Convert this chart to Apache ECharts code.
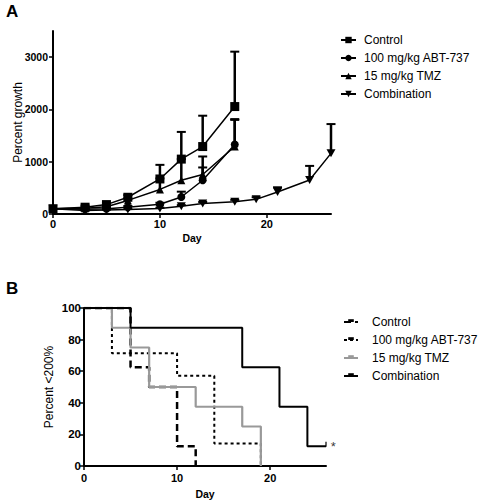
<!DOCTYPE html>
<html><head><meta charset="utf-8">
<script src="https://cdn.jsdelivr.net/npm/echarts@6/dist/echarts.min.js"></script>
<style>html,body{margin:0;padding:0;background:#fff}#c{width:483px;height:503px}</style>
</head><body><div id="c"></div>
<script>
// ---- Panel A data ----
const daysA = [0, 3, 5, 7, 10, 12, 14, 17];
const controlA = [100, 130, 180, 320, 670, 1050, 1290, 2055];
const controlHi = [100, 160, 210, 360, 940, 1570, 1880, 3105];
const abtA = [100, 90, 100, 130, 185, 325, 645, 1330];
const abtHi = [100, 100, 115, 150, 215, 427, 890, 1815];
const tmzA = [100, 110, 140, 260, 470, 645, 755, 1290];
const tmzHi = [100, 120, 160, 300, 680, 1050, 1100, 1800];
const daysCombo = [0, 3, 5, 7, 10, 12, 14, 17, 19, 21, 24, 26];
const comboA = [100, 65, 75, 85, 105, 150, 200, 236, 280, 420, 650, 1160];
const comboHi = [100, 75, 85, 95, 120, 170, 230, 270, 320, 511, 920, 1720];
const xTicksA = [0, 10, 20];
const yTicksA = [0, 1000, 2000, 3000];

// ---- Panel B data (Kaplan-Meier steps: day, percent) ----
const controlB = [[0, 100], [5, 62.5], [7, 50], [10, 12.5], [12, 0]];
const abtB = [[0, 100], [3, 71.4], [10, 57.1], [14, 14.3], [19, 0]];
const tmzB = [[0, 100], [3, 87.5], [5, 75], [7, 50], [12, 37.5], [17, 25], [19, 0]];
const comboB = [[0, 100], [5, 87.5], [17, 62.5], [21, 37.5], [24, 12.5], [26, 12.5]];
const censoredB = [[26, 12.5]];
const xTicksB = [0, 10, 20];
const yTicksB = [0, 20, 40, 60, 80, 100];

const names = ['Control', '100 mg/kg ABT-737', '15 mg/kg TMZ', 'Combination'];
const FONT = '"Liberation Sans", Arial, sans-serif';

function pairs(xs, ys) { return xs.map((x, i) => [x, ys[i]]); }
function errData(xs, ys, hi) { return xs.map((x, i) => [x, ys[i], hi[i]]); }

function errSeries(data) {
  return {
    type: 'custom', xAxisIndex: 0, yAxisIndex: 0, silent: true, z: 1,
    data: data,
    renderItem: function (params, api) {
      const x = api.value(0), y = api.value(1), h = api.value(2);
      if (h - y < 1) return;
      const p1 = api.coord([x, y]);
      const p2 = api.coord([x, h]);
      return {
        type: 'group', children: [
          { type: 'line', shape: { x1: p1[0], y1: p1[1], x2: p2[0], y2: p2[1] }, style: { stroke: '#000', lineWidth: 2.5 } },
          { type: 'line', shape: { x1: p2[0] - 4.5, y1: p2[1], x2: p2[0] + 4.5, y2: p2[1] }, style: { stroke: '#000', lineWidth: 2 } }
        ]
      };
    }
  };
}

const tickStyle = { lineStyle: { color: '#000', width: 1.5 }, length: 4 };
const nameStyle = { color: '#000', fontFamily: FONT, fontSize: 12 };
const dayNameStyle = { color: '#000', fontFamily: FONT, fontSize: 10.5, fontWeight: 'bold' };

function mkAxis(gridIndex, min, max, ticks, name, nameStyleObj, nameGap, margin, labelSize) {
  return {
    gridIndex: gridIndex, type: 'value', min: min, max: max,
    name: name, nameLocation: 'middle', nameGap: nameGap, nameTextStyle: nameStyleObj,
    nameMoveOverlap: false,
    axisLine: { lineStyle: { color: '#000', width: 2 } },
    axisTick: Object.assign({ customValues: ticks }, tickStyle),
    axisLabel: { customValues: ticks, margin: margin, formatter: v => String(v),
      color: '#000', fontFamily: FONT, fontSize: labelSize, fontWeight: 'bold' },
    splitLine: { show: false }
  };
}

const downTri = 'path://M0,0 L10,0 L5,9 Z';
const censorIcon = 'path://M0,0h2v5h-2z M1,10L1,10';

const chart = echarts.init(document.getElementById('c'), null, { renderer: 'svg' });
const option = {
  animation: false,
  backgroundColor: '#fff',
  graphic: [
    { type: 'text', left: 6, top: 3, style: { text: 'A', font: 'bold 17px ' + FONT, fill: '#000' } },
    { type: 'text', left: 6, top: 280, style: { text: 'B', font: 'bold 17px ' + FONT, fill: '#000' } }
  ],
  grid: [
    { left: 53, top: 31, width: 278, height: 183, outerBoundsMode: 'none', containLabel: false },
    { left: 84, top: 308, width: 242, height: 158, outerBoundsMode: 'none', containLabel: false }
  ],
  legend: [
    {
      data: names.map(n => ({ name: n })),
      orient: 'vertical', left: 335, top: 29, itemWidth: 15, itemHeight: 8, itemGap: 6,
      textStyle: { color: '#000', fontFamily: FONT, fontSize: 12, padding: [0, 0, 0, 3] },
      selectedMode: false
    },
    {
      data: names.map(n => ({ name: n + ' ' })),
      orient: 'vertical', left: 338, top: 311, itemWidth: 14, itemHeight: 7, itemGap: 6,
      textStyle: { color: '#000', fontFamily: FONT, fontSize: 12, padding: [0, 0, 0, 9] },
      selectedMode: false
    }
  ],
  xAxis: [
    mkAxis(0, 0, 26, xTicksA, 'Day', dayNameStyle, 18, 4, 11),
    mkAxis(1, 0, 26, xTicksB, 'Day', dayNameStyle, 22, 6, 11)
  ],
  yAxis: [
    mkAxis(0, 0, 3500, yTicksA, 'Percent growth', nameStyle, 29, 5, 10.5),
    mkAxis(1, 0, 100, yTicksB, 'Percent <200%', nameStyle, 29, 3, 11.5)
  ],
  series: [
    errSeries(errData(daysA, controlA, controlHi)),
    errSeries(errData(daysA, abtA, abtHi)),
    errSeries(errData(daysA, tmzA, tmzHi)),
    errSeries(errData(daysCombo, comboA, comboHi)),
    { name: names[0], type: 'line', xAxisIndex: 0, yAxisIndex: 0, data: pairs(daysA, controlA), symbol: 'rect', symbolSize: 9,
      lineStyle: { color: '#000', width: 1.5 }, itemStyle: { color: '#000' }, z: 3 },
    { name: names[1], type: 'line', xAxisIndex: 0, yAxisIndex: 0, data: pairs(daysA, abtA), symbol: 'circle', symbolSize: 8,
      lineStyle: { color: '#000', width: 1.5 }, itemStyle: { color: '#000' }, z: 3 },
    { name: names[2], type: 'line', xAxisIndex: 0, yAxisIndex: 0, data: pairs(daysA, tmzA), symbol: 'triangle', symbolSize: 8,
      lineStyle: { color: '#000', width: 1.5 }, itemStyle: { color: '#000' }, z: 3 },
    { name: names[3], type: 'line', xAxisIndex: 0, yAxisIndex: 0, data: pairs(daysCombo, comboA), symbol: downTri, symbolSize: [9, 8],
      lineStyle: { color: '#000', width: 1.5 }, itemStyle: { color: '#000' }, z: 3 },

    { name: names[0] + ' ', type: 'line', step: 'end', xAxisIndex: 1, yAxisIndex: 1, data: controlB,
      symbol: censorIcon, symbolSize: 7, showSymbol: false,
      lineStyle: { color: '#000', width: 2.5, type: [7, 4] }, itemStyle: { color: '#000' }, z: 4 },
    { name: names[1] + ' ', type: 'line', step: 'end', xAxisIndex: 1, yAxisIndex: 1, data: abtB,
      symbol: censorIcon, symbolSize: 7, showSymbol: false,
      lineStyle: { color: '#000', width: 2, type: [3, 3] }, itemStyle: { color: '#000' }, z: 3 },
    { name: names[2] + ' ', type: 'line', step: 'end', xAxisIndex: 1, yAxisIndex: 1, data: tmzB,
      symbol: censorIcon, symbolSize: 7, showSymbol: false,
      lineStyle: { color: '#999', width: 2.2 }, itemStyle: { color: '#999' }, z: 5 },
    { name: names[3] + ' ', type: 'line', step: 'end', xAxisIndex: 1, yAxisIndex: 1, data: comboB,
      symbol: censorIcon, symbolSize: 7, showSymbol: false,
      lineStyle: { color: '#000', width: 2 }, itemStyle: { color: '#000' }, z: 6 },
    { type: 'scatter', xAxisIndex: 1, yAxisIndex: 1, data: censoredB, silent: true,
      symbol: 'rect', symbolSize: [1.5, 5], symbolOffset: [0, -2], itemStyle: { color: '#000' }, z: 7,
      label: { show: true, formatter: '*', position: 'right', distance: 4, color: '#000', fontSize: 13, fontFamily: FONT, offset: [0, 2] } }
  ]
};
chart.setOption(option);
</script></body></html>
